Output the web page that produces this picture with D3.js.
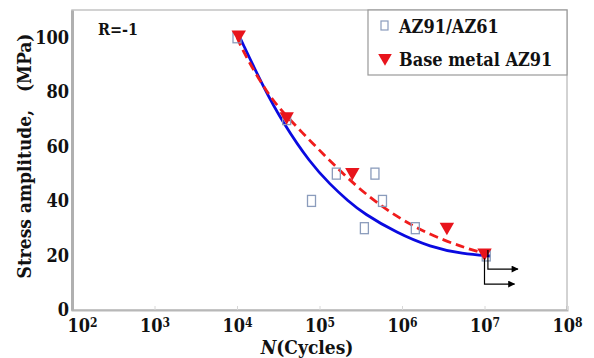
<!DOCTYPE html>
<html>
<head>
<meta charset="utf-8">
<script src="https://cdn.jsdelivr.net/npm/d3@7"></script>
<style>
  body { margin: 0; background: #fff; }
  svg text { font-family: "DejaVu Serif Condensed", "DejaVu Serif", serif; font-stretch: condensed; font-weight: bold; fill: #111; }
</style>
</head>
<body>
<div id="chart"></div>
<script>
// data
const xTicks = [1e2, 1e3, 1e4, 1e5, 1e6, 1e7, 1e8];
const yTicks = [0, 20, 40, 60, 80, 100];
const seriesNames = ["AZ91/AZ61", "Base metal AZ91"];
// AZ91/AZ61 (hollow squares)
const weldN = [1e4, 4e4, 8e4, 1.6e5, 3.5e5, 4.7e5, 5.8e5, 1.45e6, 1.05e7];
const weldS = [100, 70, 40, 50, 30, 50, 40, 30, 20];
// base metal AZ91 (red triangles)
const baseN = [1.05e4, 4e4, 2.5e5, 3.5e6, 1e7];
const baseS = [101, 71, 50.5, 30.5, 21];
// fitted curves, points (log10 N, MPa)
const blueFitLogN = [4.04, 4.32, 4.56, 4.885, 5.13, 5.345, 5.53, 5.94, 6.34, 6.74, 7.07];
const blueFitS = [99.6, 81.7, 68.5, 54, 46, 40, 35.5, 28.2, 23.1, 20.5, 19.8];
const redFitLogN = [4.0, 4.07, 4.36, 4.6, 4.92, 5.2, 5.53, 5.94, 6.34, 6.74, 6.98];
const redFitS = [100, 95, 79.5, 71, 61, 52.5, 43, 34, 27.5, 23, 20.9];
// run-out arrows (start N, MPa)
const runoutN = [1.1e7, 1e7];
const runoutS = [22, 19];

const W = 594, H = 358;
const margin = {left: 72, right: 27, top: 10, bottom: 48};

const svg = d3.select("#chart").append("svg").attr("width", W).attr("height", H);

const x = d3.scaleLog().domain([1e2, 1e8]).range([margin.left, W - margin.right]);
const y = d3.scaleLinear().domain([0, 110]).range([H - margin.bottom, margin.top]);

// plot frame
svg.append("rect")
  .attr("x", x.range()[0]).attr("y", y.range()[1])
  .attr("width", x.range()[1] - x.range()[0]).attr("height", y.range()[0] - y.range()[1])
  .attr("fill", "#fff").attr("stroke", "#c4c4c4").attr("stroke-width", 1.5);

// x axis
const xAxis = svg.append("g").attr("transform", `translate(0,${y(0)})`)
  .call(d3.axisBottom(x).tickValues(xTicks).tickSize(-4).tickPadding(4).tickFormat(() => ""));
xAxis.select(".domain").attr("stroke", "#b8b8b8").attr("stroke-width", 2);
xAxis.selectAll(".tick line").attr("stroke", "#d8d8d8");
xAxis.selectAll(".tick text").each(function(d, i) {
  const t = d3.select(this).style("font-size", "18px").attr("dy", "1em")
    .attr("dx", i === 0 ? 10 : 0);
  t.append("tspan").text("10");
  t.append("tspan").attr("dy", "-0.45em").style("font-size", "12px").text(Math.round(Math.log10(d)));
});

// y axis
const yAxis = svg.append("g").attr("transform", `translate(${x.range()[0]},0)`)
  .call(d3.axisLeft(y).tickValues(yTicks).tickSize(0).tickPadding(3));
yAxis.select(".domain").attr("stroke", "#b0b0b0").attr("stroke-width", 3);
yAxis.selectAll(".tick text").style("font-size", "18px").attr("fill", "#111");

// axis titles
const xt = svg.append("text").attr("x", 307).attr("y", 354).attr("text-anchor", "middle").style("font-size", "19px");
xt.append("tspan").style("font-style", "italic").text("N");
xt.append("tspan").text("(Cycles)");

svg.append("text").attr("transform", "rotate(-90)")
  .attr("x", -156).attr("y", 31).attr("text-anchor", "middle")
  .style("font-size", "19px").attr("xml:space", "preserve")
  .text("Stress amplitude,   (MPa)");

svg.append("text").attr("x", 98).attr("y", 35).style("font-size", "16px").text("R=-1");

// fitted curves
const line = d3.line().curve(d3.curveBasis)
  .x(d => x(Math.pow(10, d[0]))).y(d => y(d[1]));
svg.append("path").datum(blueFitLogN.map((v, i) => [v, blueFitS[i]]))
  .attr("d", line).attr("fill", "none").attr("stroke", "#0a0ae0").attr("stroke-width", 2.8);
svg.append("path").datum(redFitLogN.map((v, i) => [v, redFitS[i]]))
  .attr("d", line).attr("fill", "none").attr("stroke", "#f01c1c").attr("stroke-width", 2.8)
  .attr("stroke-dasharray", "9,5");

// squares
svg.append("g").selectAll("rect").data(weldN.map((n, i) => [n, weldS[i]])).join("rect")
  .attr("x", d => x(d[0]) - 4).attr("y", d => y(d[1]) - 5.5)
  .attr("width", 8).attr("height", 11)
  .attr("fill", "none").attr("stroke", "#8b9cbc").attr("stroke-width", 1.3);

// triangles
const tri = d3.symbol().type(d3.symbolTriangle).size(90);
svg.append("g").selectAll("path").data(baseN.map((n, i) => [n, baseS[i]])).join("path")
  .attr("d", tri).attr("transform", d => `translate(${x(d[0])},${y(d[1])}) rotate(180)`)
  .attr("fill", "#e8141c");

// run-out arrows
svg.append("defs").append("marker").attr("id", "arr")
  .attr("viewBox", "0 0 10 10").attr("refX", 9).attr("refY", 5)
  .attr("markerWidth", 9).attr("markerHeight", 7).attr("markerUnits", "userSpaceOnUse")
  .attr("orient", "auto").append("path").attr("d", "M0,0L10,5L0,10z").attr("fill", "#000");
runoutN.forEach((n, i) => {
  const x0 = x(n), y0 = y(runoutS[i]), y1 = y(runoutS[i] - 7 - i * 2.5);
  svg.append("path").attr("d", `M${x0},${y0}V${y1}H${x0 + 30}`)
    .attr("fill", "none").attr("stroke", "#000").attr("stroke-width", 1.2)
    .attr("marker-end", "url(#arr)");
});

// legend
const lg = svg.append("g");
lg.append("rect").attr("x", 368).attr("y", 10).attr("width", 199).attr("height", 65)
  .attr("fill", "#fff").attr("stroke", "#999").attr("stroke-width", 1.2);
lg.append("rect").attr("x", 381).attr("y", 21).attr("width", 7).attr("height", 9)
  .attr("fill", "none").attr("stroke", "#8b9cbc").attr("stroke-width", 1.2);
lg.append("path").attr("d", d3.symbol().type(d3.symbolTriangle).size(80))
  .attr("transform", "translate(385,58) rotate(180)").attr("fill", "#e8141c");
lg.append("text").attr("x", 399).attr("y", 33).style("font-size", "18px").text(seriesNames[0]);
lg.append("text").attr("x", 399).attr("y", 66).style("font-size", "18px").text(seriesNames[1]);
</script>
</body>
</html>
